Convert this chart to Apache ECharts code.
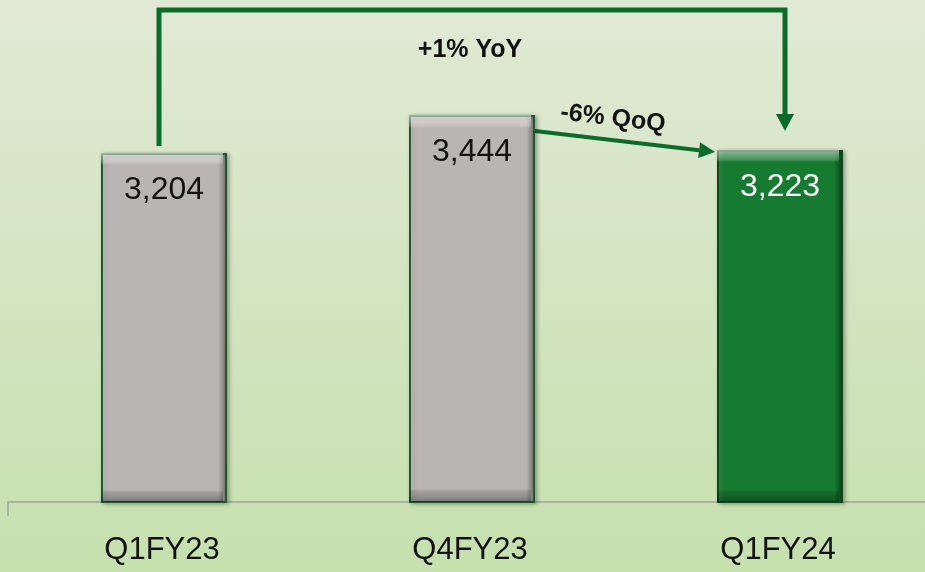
<!DOCTYPE html>
<html>
<head>
<meta charset="utf-8">
<script src="https://cdn.jsdelivr.net/npm/echarts@6/dist/echarts.min.js"></script>
<style>
  html, body { margin: 0; padding: 0; }
  #chart { width: 925px; height: 572px; }
</style>
</head>
<body>
<div id="chart"></div>
<script>
const categories = ['Q1FY23', 'Q4FY23', 'Q1FY24']
const values = [3204, 3444, 3223]
const highlightIndex = 2
const yoyText = '+1% YoY'
const qoqText = '-6% QoQ'

const arrowGreen = '#0b6b2a'

const chart = echarts.init(document.getElementById('chart'))

const sideGradient = (light, mid, dark) =>
  new echarts.graphic.LinearGradient(0, 0, 1, 0, [
    { offset: 0, color: light },
    { offset: 0.06, color: mid },
    { offset: 0.93, color: mid },
    { offset: 1, color: dark }
  ])

const grayFill = sideGradient('#d2cece', '#b9b5b5', '#6f6b6b')
const greenFill = sideGradient('#3a9a50', '#177a31', '#083f17')

// top / bottom bevel drawn as a translucent overlay on the same bars
const bevel = new echarts.graphic.LinearGradient(0, 0, 0, 1, [
  { offset: 0, color: 'rgba(255,255,255,0.55)' },
  { offset: 0.028, color: 'rgba(255,255,255,0.18)' },
  { offset: 0.034, color: 'rgba(255,255,255,0)' },
  { offset: 0.965, color: 'rgba(0,0,0,0)' },
  { offset: 0.972, color: 'rgba(0,0,0,0.12)' },
  { offset: 1, color: 'rgba(0,0,0,0.3)' }
])

const option = {
  animation: false,
  backgroundColor: new echarts.graphic.LinearGradient(0, 0, 0, 1, [
    { offset: 0, color: '#e1e9d5' },
    { offset: 1, color: '#c6e0ae' }
  ]),
  grid: { left: 8, top: 27, width: 924, bottom: 70, outerBoundsMode: 'none' },
  xAxis: {
    type: 'category',
    data: categories,
    axisLine: { lineStyle: { color: '#9fa39c', width: 1.5 } },
    axisTick: {
      show: true,
      length: 14,
      interval: (i) => i === 0,
      lineStyle: { color: '#9fa39c', width: 1.5 }
    },
    axisLabel: {
      color: '#111',
      fontFamily: 'Liberation Sans',
      fontSize: 31,
      lineHeight: 31,
      margin: 33
    }
  },
  yAxis: {
    type: 'value',
    min: 1000,
    max: 4000,
    show: false,
    splitLine: { show: false }
  },
  series: [
    {
      type: 'bar',
      barWidth: 126,
      data: values.map((v, i) => ({
        value: v,
        itemStyle: {
          color: i === highlightIndex ? greenFill : grayFill,
          borderColor: i === highlightIndex ? '#0c4a1c' : '#1d5a2c',
          borderWidth: 2,
          shadowBlur: 4,
          shadowOffsetX: 2,
          shadowOffsetY: 1,
          shadowColor: 'rgba(0,0,0,0.3)'
        },
        label: { color: i === highlightIndex ? '#ffffff' : '#111111' }
      })),
      label: {
        show: true,
        position: 'insideTop',
        distance: 21,
        fontFamily: 'Liberation Sans',
        fontSize: 32,
        lineHeight: 32,
        formatter: (p) => p.value.toLocaleString('en-US')
      },
      z: 2
    },
    {
      type: 'bar',
      barWidth: 122,
      barGap: '-100%',
      silent: true,
      data: values,
      itemStyle: { color: bevel },
      z: 3
    }
  ]
}

chart.setOption(option)

// annotations placed from the chart's own scales
const barTop = (i) => chart.convertToPixel({ seriesIndex: 0 }, [i, values[i]])
const half = 63
const a = barTop(0)
const b = barTop(1)
const c = barTop(2)
const gridTop = chart.convertToPixel({ yAxisIndex: 0 }, 4000)
const bracketY = gridTop - 17
const leftX = a[0] - 3
const rightX = c[0] + 7
const tipY = c[1] - 19

const qStart = [b[0] + half + 2, b[1] + 16]
const qTip = [c[0] - half, c[1] + 2]
const ang = Math.atan2(qTip[1] - qStart[1], qTip[0] - qStart[0])
const headLen = 16
const headW = 8
const qBase = [qTip[0] - headLen * Math.cos(ang), qTip[1] - headLen * Math.sin(ang)]
const nx = -Math.sin(ang)
const ny = Math.cos(ang)

chart.setOption({
  graphic: [
    {
      type: 'polyline',
      shape: { points: [[leftX, a[1] - 7], [leftX, bracketY], [rightX, bracketY], [rightX, tipY - 16]] },
      style: { stroke: arrowGreen, lineWidth: 5, fill: null, lineJoin: 'miter' }
    },
    {
      type: 'polygon',
      shape: { points: [[rightX - 9, tipY - 17], [rightX + 9, tipY - 17], [rightX, tipY]] },
      style: { fill: arrowGreen }
    },
    {
      type: 'line',
      shape: { x1: qStart[0], y1: qStart[1], x2: qBase[0], y2: qBase[1] },
      style: { stroke: arrowGreen, lineWidth: 4 }
    },
    {
      type: 'polygon',
      shape: {
        points: [
          [qBase[0] + nx * headW, qBase[1] + ny * headW],
          [qBase[0] - nx * headW, qBase[1] - ny * headW],
          qTip
        ]
      },
      style: { fill: arrowGreen }
    },
    {
      type: 'text',
      x: b[0],
      y: bracketY + 40,
      style: {
        text: yoyText,
        fill: '#111',
        font: 'bold 25px "Liberation Sans"',
        align: 'center',
        verticalAlign: 'middle'
      }
    },
    {
      type: 'text',
      x: (qStart[0] + qTip[0]) / 2 - 12,
      y: (qStart[1] + qTip[1]) / 2 - 23,
      rotation: -ang,
      style: {
        text: qoqText,
        fill: '#111',
        font: 'bold 25px "Liberation Sans"',
        align: 'center',
        verticalAlign: 'middle'
      }
    }
  ]
})
</script>
</body>
</html>
